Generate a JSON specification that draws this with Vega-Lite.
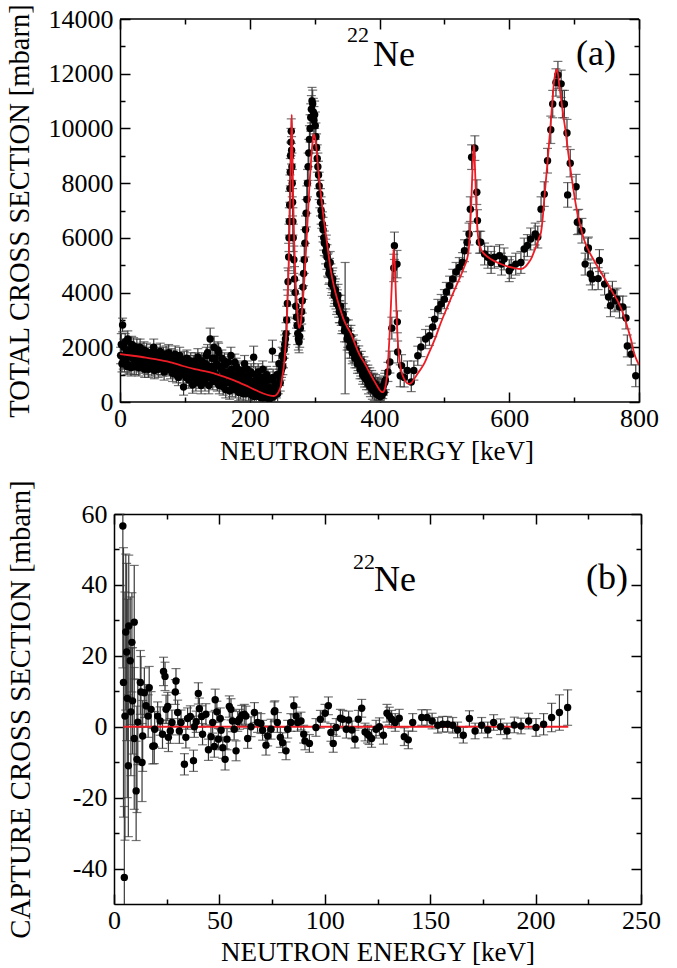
{
"$schema": "https://vega.github.io/schema/vega-lite/v6.json",
"padding": {"left": 5, "top": 3, "right": 5, "bottom": 0},
"background": "white",
"config": {
  "view": {"stroke": null},
  "font": "Liberation Serif",
  "axis": {"domainColor": "black", "domainWidth": 1.5, "tickColor": "black", "tickWidth": 1.5, "labelColor": "black", "titleColor": "black", "labelFont": "Liberation Serif", "titleFont": "Liberation Serif", "labelFontSize": 26, "titleFontSize": 27, "titleFontWeight": "normal", "grid": false, "labelFlush": false, "labelOverlap": false}
},
"datasets": {
  "top": [
    {"e":2,"s":2100,"d":400},{"e":4,"s":2815,"d":250},{"e":5,"s":1500,"d":300},{"e":7,"s":1400,"d":300},{"e":8,"s":2200,"d":300},{"e":10,"s":1800,"d":350},{"e":12,"s":2300,"d":300},{"e":14,"s":1350,"d":300},{"e":16,"s":1900,"d":300},{"e":18,"s":2100,"d":300},{"e":20,"s":1600,"d":300},{"e":22,"s":1300,"d":300},{"e":24,"s":1750,"d":300},{"e":26,"s":2000,"d":300},{"e":28,"s":1450,"d":300},{"e":30,"s":1850,"d":300},{"e":32,"s":1550,"d":300},{"e":35,"s":1350,"d":300},{"e":37,"s":1900,"d":300},{"e":40,"s":1700,"d":300},{"e":42,"s":1300,"d":300},{"e":45,"s":1600,"d":300},{"e":48,"s":1450,"d":300},{"e":52,"s":2000,"d":300},{"e":54,"s":1500,"d":300},{"e":57,"s":1300,"d":300},{"e":60,"s":1700,"d":300},{"e":63,"s":1550,"d":300},{"e":66,"s":1250,"d":300},{"e":69,"s":1600,"d":300},{"e":72,"s":1450,"d":300},{"e":75,"s":1800,"d":300},{"e":78,"s":1150,"d":300},{"e":80,"s":1400,"d":300},{"e":83,"s":1600,"d":300},{"e":86,"s":1200,"d":300},{"e":88,"s":1350,"d":300},{"e":90,"s":900,"d":300},{"e":93,"s":1500,"d":300},{"e":96,"s":1250,"d":300},{"e":98,"s":550,"d":300},{"e":101,"s":1300,"d":300},{"e":104,"s":1100,"d":300},{"e":107,"s":1400,"d":300},{"e":110,"s":1000,"d":300},{"e":112,"s":620,"d":300},{"e":115,"s":1250,"d":300},{"e":118,"s":950,"d":300},{"e":121,"s":1150,"d":300},{"e":124,"s":800,"d":300},{"e":127,"s":1350,"d":300},{"e":130,"s":1050,"d":300},{"e":133,"s":1700,"d":300},{"e":136,"s":900,"d":300},{"e":139,"s":2300,"d":400},{"e":141,"s":1300,"d":300},{"e":143,"s":750,"d":300},{"e":145,"s":2000,"d":400},{"e":146,"s":1600,"d":300},{"e":148,"s":1000,"d":300},{"e":151,"s":1900,"d":300},{"e":152,"s":1800,"d":350},{"e":153,"s":600,"d":300},{"e":156,"s":1200,"d":300},{"e":158,"s":800,"d":300},{"e":161,"s":1500,"d":300},{"e":163,"s":450,"d":300},{"e":166,"s":1100,"d":300},{"e":168,"s":700,"d":300},{"e":171,"s":1700,"d":300},{"e":173,"s":500,"d":300},{"e":176,"s":950,"d":300},{"e":179,"s":1300,"d":300},{"e":181,"s":600,"d":300},{"e":184,"s":1100,"d":300},{"e":186,"s":400,"d":300},{"e":189,"s":800,"d":300},{"e":192,"s":1400,"d":300},{"e":194,"s":300,"d":300},{"e":197,"s":700,"d":300},{"e":200,"s":1000,"d":300},{"e":203,"s":250,"d":300},{"e":206,"s":1640,"d":400},{"e":208,"s":500,"d":300},{"e":211,"s":800,"d":300},{"e":214,"s":200,"d":300},{"e":217,"s":600,"d":300},{"e":220,"s":1200,"d":300},{"e":222,"s":150,"d":300},{"e":225,"s":450,"d":300},{"e":228,"s":900,"d":300},{"e":230,"s":100,"d":300},{"e":233,"s":350,"d":300},{"e":235,"s":1860,"d":400},{"e":237,"s":200,"d":300},{"e":240,"s":600,"d":300},{"e":243,"s":300,"d":300},{"e":246,"s":900,"d":300},{"e":249,"s":1200,"d":300},{"e":252,"s":1600,"d":350},{"e":254,"s":2100,"d":350},{"e":256,"s":2500,"d":400},
    {"e":1,"s":1700,"d":300},{"e":3,"s":1400,"d":300},{"e":6,"s":2000,"d":300},{"e":9,"s":1550,"d":300},{"e":11,"s":1300,"d":300},{"e":13,"s":1900,"d":300},{"e":15,"s":1650,"d":300},{"e":17,"s":1250,"d":300},{"e":19,"s":1800,"d":300},{"e":21,"s":2050,"d":300},{"e":23,"s":1500,"d":300},{"e":25,"s":1300,"d":300},{"e":27,"s":1700,"d":300},{"e":29,"s":1250,"d":300},{"e":31,"s":2000,"d":300},{"e":33,"s":1400,"d":300},{"e":34,"s":1750,"d":300},{"e":36,"s":1550,"d":300},{"e":38,"s":1200,"d":300},{"e":39,"s":1500,"d":300},{"e":41,"s":1850,"d":300},{"e":43,"s":1600,"d":300},{"e":44,"s":1200,"d":300},{"e":46,"s":1400,"d":300},{"e":47,"s":1800,"d":300},{"e":49,"s":1250,"d":300},{"e":50,"s":1550,"d":300},{"e":51,"s":1700,"d":300},{"e":53,"s":1150,"d":300},{"e":55,"s":1800,"d":300},{"e":56,"s":1400,"d":300},{"e":58,"s":1650,"d":300},{"e":59,"s":1200,"d":300},{"e":61,"s":1450,"d":300},{"e":62,"s":1850,"d":300},{"e":64,"s":1300,"d":300},{"e":65,"s":1500,"d":300},{"e":67,"s":1700,"d":300},{"e":68,"s":1100,"d":300},{"e":70,"s":1400,"d":300},{"e":71,"s":1750,"d":300},{"e":73,"s":1300,"d":300},{"e":74,"s":1550,"d":300},{"e":76,"s":1250,"d":300},{"e":77,"s":1500,"d":300},{"e":79,"s":1650,"d":300},{"e":81,"s":1050,"d":300},{"e":82,"s":1300,"d":300},{"e":84,"s":1450,"d":300},{"e":85,"s":1750,"d":300},{"e":87,"s":1000,"d":300},{"e":89,"s":1500,"d":300},{"e":91,"s":1250,"d":300},{"e":92,"s":1700,"d":300},{"e":94,"s":1100,"d":300},{"e":95,"s":1400,"d":300},{"e":97,"s":1000,"d":300},{"e":99,"s":1550,"d":300},{"e":100,"s":1200,"d":300},{"e":102,"s":900,"d":300},{"e":103,"s":1600,"d":300},{"e":105,"s":1300,"d":300},{"e":106,"s":800,"d":300},{"e":108,"s":1200,"d":300},{"e":109,"s":1500,"d":300},{"e":111,"s":1100,"d":300},{"e":113,"s":1400,"d":300},{"e":114,"s":900,"d":300},{"e":116,"s":1500,"d":300},{"e":117,"s":700,"d":300},{"e":119,"s":1200,"d":300},{"e":120,"s":1650,"d":300},{"e":122,"s":1000,"d":300},{"e":123,"s":1300,"d":300},{"e":125,"s":600,"d":300},{"e":126,"s":1500,"d":300},{"e":128,"s":900,"d":300},{"e":129,"s":1200,"d":300},{"e":131,"s":700,"d":300},{"e":132,"s":1400,"d":300},{"e":134,"s":1100,"d":300},{"e":135,"s":1800,"d":300},{"e":137,"s":600,"d":300},{"e":138,"s":1300,"d":300},{"e":140,"s":1000,"d":300},{"e":142,"s":1600,"d":300},{"e":144,"s":1200,"d":300},{"e":147,"s":850,"d":300},{"e":149,"s":1400,"d":300},{"e":150,"s":700,"d":300},{"e":154,"s":1300,"d":300},{"e":155,"s":900,"d":300},{"e":157,"s":1600,"d":300},{"e":159,"s":550,"d":300},{"e":160,"s":1100,"d":300},{"e":162,"s":1350,"d":300},{"e":164,"s":700,"d":300},{"e":165,"s":1000,"d":300},{"e":167,"s":1450,"d":300},{"e":169,"s":400,"d":300},{"e":170,"s":900,"d":300},{"e":172,"s":1200,"d":300},{"e":174,"s":650,"d":300},{"e":175,"s":1000,"d":300},{"e":177,"s":1450,"d":300},{"e":178,"s":450,"d":300},{"e":180,"s":850,"d":300},{"e":182,"s":1200,"d":300},{"e":183,"s":350,"d":300},{"e":185,"s":900,"d":300},{"e":187,"s":600,"d":300},{"e":188,"s":1150,"d":300},{"e":190,"s":300,"d":300},{"e":191,"s":700,"d":300},{"e":193,"s":950,"d":300},{"e":195,"s":500,"d":300},{"e":196,"s":1200,"d":300},{"e":198,"s":350,"d":300},{"e":199,"s":800,"d":300},{"e":201,"s":600,"d":300},{"e":202,"s":1100,"d":300},{"e":204,"s":400,"d":300},{"e":205,"s":750,"d":300},{"e":207,"s":200,"d":300},{"e":209,"s":1000,"d":300},{"e":210,"s":300,"d":300},{"e":212,"s":650,"d":300},{"e":213,"s":1100,"d":300},{"e":215,"s":400,"d":300},{"e":216,"s":750,"d":300},{"e":218,"s":150,"d":300},{"e":219,"s":900,"d":300},{"e":221,"s":500,"d":300},{"e":223,"s":700,"d":300},{"e":224,"s":250,"d":300},{"e":226,"s":1000,"d":300},{"e":227,"s":300,"d":300},{"e":229,"s":550,"d":300},{"e":231,"s":800,"d":300},{"e":232,"s":150,"d":300},{"e":234,"s":500,"d":300},{"e":236,"s":900,"d":300},{"e":238,"s":300,"d":300},{"e":239,"s":700,"d":300},{"e":241,"s":450,"d":300},{"e":242,"s":1000,"d":300},{"e":244,"s":600,"d":300},{"e":245,"s":1400,"d":300},{"e":247,"s":700,"d":300},{"e":248,"s":1100,"d":300},{"e":250,"s":1700,"d":300},{"e":251,"s":1300,"d":300},{"e":253,"s":1900,"d":300},{"e":255,"s":2300,"d":300},
    {"e":257,"s":3000,"d":500},{"e":258,"s":3600,"d":500},{"e":259,"s":4400,"d":500},{"e":260,"s":5300,"d":500},{"e":260.5,"s":6000,"d":500},{"e":261,"s":6600,"d":500},{"e":261.5,"s":7200,"d":500},{"e":262,"s":7800,"d":500},{"e":262.5,"s":8400,"d":500},{"e":263,"s":9000,"d":500},{"e":263.5,"s":9500,"d":500},{"e":264,"s":9900,"d":450},{"e":264.5,"s":9200,"d":500},{"e":265,"s":8600,"d":500},{"e":265.5,"s":8000,"d":500},{"e":266,"s":7300,"d":500},{"e":266.5,"s":6600,"d":500},{"e":267,"s":6000,"d":500},{"e":268,"s":5200,"d":500},{"e":269,"s":4500,"d":450},{"e":270,"s":4000,"d":450},{"e":271,"s":3500,"d":450},{"e":272,"s":3100,"d":400},{"e":273,"s":2800,"d":400},{"e":274,"s":2500,"d":400},{"e":275,"s":2300,"d":400},{"e":276,"s":2200,"d":400},{"e":277,"s":2400,"d":400},{"e":278,"s":2700,"d":400},{"e":279,"s":3000,"d":400},{"e":280,"s":3300,"d":450},{"e":281,"s":3700,"d":450},{"e":282,"s":4200,"d":450},{"e":283,"s":4700,"d":450},{"e":284,"s":5200,"d":500},{"e":285,"s":5800,"d":500},{"e":286,"s":6300,"d":500},{"e":287,"s":6900,"d":500},{"e":288,"s":7400,"d":500},{"e":289,"s":8000,"d":500},{"e":290,"s":8600,"d":500},{"e":291,"s":9100,"d":500},{"e":292,"s":9600,"d":500},{"e":293,"s":10000,"d":500},{"e":294,"s":10400,"d":500},{"e":295,"s":10700,"d":500},{"e":296,"s":11000,"d":500},{"e":297,"s":10900,"d":500},{"e":298,"s":10600,"d":500},{"e":299,"s":10300,"d":500},{"e":300,"s":10500,"d":500},{"e":301,"s":10100,"d":500},{"e":302,"s":9700,"d":500},{"e":303,"s":9300,"d":500},{"e":304,"s":8900,"d":500},{"e":305,"s":8600,"d":500},{"e":306,"s":8300,"d":500},{"e":307,"s":7900,"d":500},{"e":308,"s":7600,"d":500},{"e":309,"s":7300,"d":500},{"e":310,"s":7000,"d":500},{"e":311,"s":6800,"d":450},{"e":312,"s":6500,"d":450},{"e":313,"s":6300,"d":450},{"e":314,"s":6000,"d":450},{"e":315,"s":5800,"d":450},{"e":317,"s":5500,"d":450},{"e":319,"s":5300,"d":450},{"e":321,"s":5000,"d":450},{"e":323,"s":4800,"d":450},{"e":325,"s":4600,"d":450},{"e":327,"s":4400,"d":400},{"e":329,"s":4200,"d":400},{"e":331,"s":4000,"d":400},{"e":333,"s":3800,"d":400},{"e":335,"s":3700,"d":400},{"e":337,"s":3500,"d":400},{"e":339,"s":3300,"d":400},{"e":341,"s":3200,"d":400},{"e":343,"s":3000,"d":400},{"e":345,"s":2900,"d":400},{"e":347,"s":2700,"d":2400},{"e":349,"s":2600,"d":400},{"e":351,"s":2400,"d":400},{"e":353,"s":2300,"d":400},{"e":355,"s":2200,"d":400},{"e":357,"s":2000,"d":400},{"e":359,"s":1900,"d":400},{"e":361,"s":1800,"d":350},{"e":363,"s":1700,"d":350},{"e":365,"s":1600,"d":350},{"e":367,"s":1500,"d":350},{"e":369,"s":1400,"d":350},{"e":371,"s":1300,"d":350},{"e":373,"s":1200,"d":350},{"e":375,"s":1100,"d":350},{"e":378,"s":1000,"d":350},{"e":381,"s":900,"d":350},{"e":384,"s":800,"d":350},{"e":387,"s":700,"d":350},{"e":390,"s":650,"d":350},{"e":393,"s":550,"d":350},{"e":396,"s":500,"d":350},{"e":399,"s":450,"d":350},{"e":402,"s":350,"d":350},
    {"e":318,"s":5700,"d":400},{"e":320,"s":5000,"d":400},{"e":322,"s":4700,"d":400},{"e":324,"s":5100,"d":400},{"e":326,"s":4300,"d":400},{"e":328,"s":4500,"d":400},{"e":330,"s":3900,"d":400},{"e":332,"s":4100,"d":400},{"e":334,"s":3600,"d":400},{"e":336,"s":3900,"d":400},{"e":338,"s":3300,"d":400},{"e":340,"s":3500,"d":400},{"e":342,"s":2900,"d":400},{"e":344,"s":3200,"d":400},{"e":346,"s":2600,"d":400},{"e":348,"s":3000,"d":400},{"e":350,"s":2300,"d":400},{"e":352,"s":2600,"d":400},{"e":354,"s":2000,"d":400},{"e":356,"s":2400,"d":400},{"e":358,"s":1800,"d":400},{"e":360,"s":2100,"d":350},{"e":362,"s":1600,"d":350},{"e":364,"s":1900,"d":350},{"e":366,"s":1400,"d":350},{"e":368,"s":1700,"d":350},{"e":370,"s":1200,"d":350},{"e":372,"s":1500,"d":350},{"e":374,"s":1000,"d":350},{"e":376,"s":1300,"d":350},{"e":377,"s":900,"d":350},{"e":379,"s":1150,"d":350},{"e":380,"s":800,"d":350},{"e":382,"s":1000,"d":350},{"e":383,"s":650,"d":350},{"e":385,"s":900,"d":350},{"e":386,"s":550,"d":350},{"e":388,"s":800,"d":350},{"e":389,"s":450,"d":350},{"e":391,"s":700,"d":350},{"e":392,"s":400,"d":350},{"e":394,"s":650,"d":350},{"e":395,"s":300,"d":350},{"e":397,"s":550,"d":350},{"e":398,"s":250,"d":350},{"e":400,"s":400,"d":350},{"e":401,"s":200,"d":350},{"e":403,"s":500,"d":350},{"e":404,"s":250,"d":350},{"e":406,"s":600,"d":350},{"e":407,"s":350,"d":350},{"e":408,"s":700,"d":350},
    {"e":405,"s":475,"d":350},{"e":409,"s":800,"d":350},{"e":413,"s":1100,"d":350},{"e":416,"s":1460,"d":400},{"e":419,"s":2700,"d":400},{"e":422,"s":4900,"d":500},{"e":423,"s":5710,"d":500},{"e":427,"s":5040,"d":500},{"e":427.5,"s":2930,"d":400},{"e":428,"s":1830,"d":400},{"e":432,"s":960,"d":400},{"e":434,"s":1330,"d":400},{"e":438,"s":900,"d":350},{"e":443,"s":1150,"d":350},{"e":449,"s":730,"d":350},{"e":453,"s":1150,"d":350},{"e":459,"s":1690,"d":350},{"e":464,"s":2010,"d":350},{"e":471,"s":2300,"d":350},{"e":477,"s":2420,"d":350},{"e":482,"s":2740,"d":350},{"e":485,"s":3030,"d":350},{"e":490,"s":3400,"d":350},{"e":495,"s":3580,"d":350},{"e":500,"s":3760,"d":350},{"e":503,"s":4020,"d":350},{"e":508,"s":4250,"d":350},{"e":513,"s":4500,"d":350},{"e":518,"s":4750,"d":350},{"e":523,"s":4930,"d":350},{"e":528,"s":5110,"d":350},{"e":531,"s":5530,"d":400},{"e":535,"s":5840,"d":400},{"e":538,"s":6140,"d":400},{"e":540,"s":7050,"d":450},{"e":542,"s":8950,"d":450},{"e":547,"s":9280,"d":450},{"e":550,"s":7670,"d":450},{"e":551,"s":6630,"d":400},{"e":554,"s":5840,"d":400},{"e":556,"s":5840,"d":400},{"e":562,"s":5410,"d":400},{"e":567,"s":5290,"d":400},{"e":572,"s":5100,"d":400},{"e":577,"s":5290,"d":400},{"e":585,"s":5350,"d":400},{"e":588,"s":5040,"d":400},{"e":592,"s":5230,"d":400},{"e":600,"s":4800,"d":400},{"e":603,"s":4920,"d":400},{"e":610,"s":5040,"d":400},{"e":618,"s":5100,"d":400},{"e":623,"s":5590,"d":400},{"e":628,"s":5720,"d":400},{"e":633,"s":5960,"d":400},{"e":640,"s":6140,"d":400},{"e":644,"s":6030,"d":400},{"e":649,"s":7050,"d":450},{"e":654,"s":7600,"d":450},{"e":659,"s":8820,"d":450},{"e":664,"s":9950,"d":500},{"e":667,"s":10890,"d":500},{"e":672,"s":11680,"d":500},{"e":675,"s":11950,"d":500},{"e":680,"s":11630,"d":500},{"e":682,"s":10890,"d":500},{"e":685,"s":10890,"d":500},{"e":689,"s":9830,"d":500},{"e":694,"s":8730,"d":500},{"e":690,"s":7570,"d":450},{"e":703,"s":7870,"d":450},{"e":705,"s":6570,"d":450},{"e":707,"s":6590,"d":450},{"e":712,"s":6260,"d":450},{"e":717,"s":5040,"d":400},{"e":721,"s":5590,"d":400},{"e":722,"s":5630,"d":400},{"e":725,"s":4680,"d":400},{"e":728,"s":4500,"d":400},{"e":737,"s":4510,"d":400},{"e":739,"s":5170,"d":400},{"e":747,"s":4310,"d":400},{"e":753,"s":3840,"d":400},{"e":756,"s":3520,"d":400},{"e":759,"s":4010,"d":400},{"e":763,"s":3700,"d":400},{"e":766,"s":3760,"d":400},{"e":770,"s":3470,"d":400},{"e":775,"s":3470,"d":400},{"e":780,"s":3070,"d":400},{"e":782,"s":2050,"d":400},{"e":788,"s":1750,"d":400},{"e":795,"s":960,"d":400}
  ],
  "topfit": [
    {"e":0,"s":1755},{"e":20,"s":1690},{"e":40,"s":1620},{"e":60,"s":1540},{"e":80,"s":1440},{"e":97,"s":1316},{"e":120,"s":1180},{"e":148,"s":1023},{"e":175,"s":800},{"e":199,"s":548},{"e":220,"s":320},{"e":232,"s":230},{"e":237,"s":220},{"e":241,"s":260},{"e":245,"s":400},{"e":248,"s":600},{"e":250,"s":900},{"e":253,"s":1400},{"e":255,"s":2000},{"e":257,"s":2800},{"e":258,"s":3500},{"e":259.5,"s":4600},{"e":261,"s":6000},{"e":262,"s":7200},{"e":263,"s":8500},{"e":264,"s":9700},{"e":264.7,"s":10500},{"e":265.5,"s":9600},{"e":266.5,"s":8000},{"e":268,"s":6300},{"e":269,"s":5500},{"e":270.5,"s":4500},{"e":272,"s":3800},{"e":274,"s":3100},{"e":276,"s":2700},{"e":278,"s":2800},{"e":280,"s":3200},{"e":282.5,"s":3900},{"e":285,"s":4800},{"e":287.5,"s":5900},{"e":290,"s":7000},{"e":292.5,"s":8100},{"e":295,"s":9000},{"e":297,"s":9550},{"e":299,"s":9800},{"e":301,"s":9600},{"e":303,"s":9200},{"e":306,"s":8400},{"e":310,"s":7500},{"e":314,"s":6700},{"e":318,"s":6000},{"e":322,"s":5300},{"e":325,"s":4800},{"e":330,"s":4200},{"e":335,"s":3750},{"e":340,"s":3350},{"e":345,"s":3000},{"e":350,"s":2750},{"e":356,"s":2500},{"e":361,"s":2200},{"e":366,"s":1900},{"e":371,"s":1650},{"e":376,"s":1460},{"e":383,"s":1150},{"e":390,"s":850},{"e":396,"s":600},{"e":400,"s":450},{"e":403,"s":370},{"e":405,"s":360},{"e":407,"s":400},{"e":409,"s":550},{"e":411,"s":850},{"e":413,"s":1400},{"e":415,"s":2200},{"e":417,"s":3200},{"e":419,"s":4300},{"e":420.5,"s":5100},{"e":422,"s":5590},{"e":423.5,"s":5100},{"e":425,"s":4100},{"e":426.5,"s":3100},{"e":428,"s":2300},{"e":430,"s":1700},{"e":433,"s":1200},{"e":436,"s":950},{"e":440,"s":760},{"e":445,"s":660},{"e":450,"s":720},{"e":455,"s":900},{"e":460,"s":1080},{"e":465,"s":1250},{"e":470,"s":1460},{"e":474,"s":1680},{"e":480,"s":2000},{"e":487,"s":2400},{"e":493,"s":2800},{"e":500,"s":3216},{"e":506,"s":3550},{"e":512,"s":3900},{"e":518,"s":4230},{"e":525,"s":4600},{"e":530,"s":4900},{"e":534,"s":5150},{"e":536,"s":5340},{"e":538,"s":5700},{"e":540,"s":6500},{"e":541.5,"s":7300},{"e":543,"s":8300},{"e":544.5,"s":9100},{"e":545.5,"s":9400},{"e":546.5,"s":9000},{"e":548,"s":8000},{"e":549.5,"s":7000},{"e":551,"s":6300},{"e":553,"s":5850},{"e":556,"s":5600},{"e":560,"s":5450},{"e":567,"s":5300},{"e":577,"s":5150},{"e":587,"s":5044},{"e":597,"s":4960},{"e":607,"s":4900},{"e":618,"s":4862},{"e":625,"s":4950},{"e":630,"s":5100},{"e":635,"s":5300},{"e":638,"s":5480},{"e":643,"s":5800},{"e":646,"s":6000},{"e":649,"s":6210},{"e":651.5,"s":6700},{"e":654,"s":7420},{"e":656.5,"s":8100},{"e":659,"s":8770},{"e":661.5,"s":9500},{"e":664,"s":10230},{"e":666.5,"s":11000},{"e":669,"s":11700},{"e":671,"s":12000},{"e":673,"s":12170},{"e":675,"s":12000},{"e":677,"s":11600},{"e":680,"s":11075},{"e":683.5,"s":10450},{"e":687,"s":9870},{"e":691,"s":9100},{"e":695,"s":8400},{"e":699,"s":7750},{"e":703,"s":7160},{"e":709,"s":6500},{"e":715,"s":5960},{"e":722,"s":5550},{"e":730,"s":5200},{"e":741,"s":4750},{"e":750,"s":4400},{"e":760,"s":3980},{"e":768,"s":3650},{"e":776,"s":3200},{"e":783,"s":2670},{"e":788,"s":2250},{"e":792,"s":1830},{"e":797,"s":1500},{"e":800,"s":1350}
  ],
  "bot": [
    {"e":4.2,"s":56.6,"d":40},{"e":4.9,"s":-42.5,"d":20},{"e":4.5,"s":12.5,"d":38},{"e":5.2,"s":3.0,"d":35},{"e":5.6,"s":26.7,"d":22},{"e":6.0,"s":21.1,"d":25},{"e":6.3,"s":8.0,"d":28},{"e":7.0,"s":28.4,"d":20},{"e":6.8,"s":-11.0,"d":20},{"e":7.7,"s":18.6,"d":18},{"e":8.0,"s":4.2,"d":18},{"e":8.5,"s":23.8,"d":14},{"e":9.6,"s":29.5,"d":16},{"e":8.8,"s":7.3,"d":15},{"e":9.6,"s":-3.3,"d":20},{"e":10.5,"s":-18.1,"d":14},{"e":10.9,"s":-9.2,"d":15},{"e":11.3,"s":1.3,"d":12},{"e":12.5,"s":12.5,"d":9},{"e":12.8,"s":9.8,"d":10},{"e":13.3,"s":-10.1,"d":11},{"e":13.6,"s":-2.6,"d":10},{"e":14.4,"s":9.6,"d":7},{"e":15.2,"s":5.9,"d":6},{"e":16.2,"s":3.0,"d":6},{"e":16.7,"s":11.0,"d":6},{"e":17.6,"s":4.9,"d":5},{"e":18.4,"s":-5.5,"d":5},{"e":19.1,"s":-5.4,"d":5},{"e":19.3,"s":-0.7,"d":5},{"e":20.7,"s":3.0,"d":4},{"e":21.9,"s":1.6,"d":4},{"e":23.0,"s":-2.1,"d":4},{"e":23.5,"s":15.6,"d":4},{"e":24.2,"s":14.2,"d":4},{"e":24.7,"s":4.9,"d":4},{"e":25.5,"s":5.7,"d":4},{"e":25.8,"s":-3.0,"d":4},{"e":26.7,"s":-1.2,"d":3.5},{"e":27.5,"s":1.2,"d":3.5},{"e":29.1,"s":9.8,"d":3.5},{"e":29.4,"s":12.9,"d":3.5},{"e":30.2,"s":4.0,"d":3.5},{"e":31.0,"s":-1.2,"d":3.5},{"e":31.8,"s":1.2,"d":3.5},{"e":33.4,"s":-10.6,"d":3},{"e":34.1,"s":-3.0,"d":3},{"e":34.9,"s":2.3,"d":3},{"e":36.2,"s":2.9,"d":3},{"e":37.7,"s":-9.6,"d":3},{"e":38.1,"s":0.0,"d":3},{"e":39.0,"s":1.4,"d":3},{"e":40.0,"s":9.4,"d":3},{"e":40.5,"s":5.1,"d":3},{"e":41.6,"s":2.9,"d":3},{"e":42.0,"s":-2.1,"d":3},{"e":43.6,"s":3.5,"d":3},{"e":44.8,"s":-6.5,"d":3},{"e":46.0,"s":-2.8,"d":3},{"e":46.8,"s":1.2,"d":3},{"e":47.6,"s":-5.6,"d":3},{"e":48.0,"s":7.6,"d":3},{"e":48.8,"s":4.2,"d":3},{"e":49.5,"s":-3.5,"d":3},{"e":50.4,"s":2.3,"d":3},{"e":50.8,"s":-1.0,"d":3},{"e":51.6,"s":-5.9,"d":3},{"e":52.7,"s":-9.2,"d":3},{"e":53.6,"s":-3.5,"d":3},{"e":54.7,"s":5.7,"d":3},{"e":55.5,"s":4.9,"d":3},{"e":56.2,"s":1.6,"d":3},{"e":57.0,"s":-0.7,"d":3},{"e":57.9,"s":-6.8,"d":2.8},{"e":58.7,"s":1.5,"d":2.8},{"e":59.5,"s":2.1,"d":2.8},{"e":60.6,"s":3.2,"d":2.8},{"e":61.8,"s":3.5,"d":2.8},{"e":62.6,"s":3.0,"d":2.8},{"e":63.4,"s":-3.3,"d":2.8},{"e":65.0,"s":0.0,"d":2.8},{"e":66.6,"s":4.0,"d":2.8},{"e":68.1,"s":1.2,"d":2.8},{"e":69.7,"s":0.9,"d":2.8},{"e":70.5,"s":-1.0,"d":2.8},{"e":72.1,"s":-5.2,"d":2.8},{"e":72.9,"s":-2.6,"d":2.8},{"e":74.5,"s":-0.7,"d":2.8},{"e":76.0,"s":4.2,"d":2.8},{"e":76.3,"s":4.5,"d":2.8},{"e":77.5,"s":1.2,"d":2.8},{"e":78.9,"s":-3.0,"d":2.8},{"e":80.0,"s":-4.5,"d":2.8},{"e":81.6,"s":-6.8,"d":2.5},{"e":82.4,"s":-0.7,"d":2.5},{"e":83.9,"s":1.2,"d":2.5},{"e":85.3,"s":5.9,"d":2.5},{"e":86.4,"s":3.0,"d":2.5},{"e":87.1,"s":1.2,"d":2.5},
    {"e":88.7,"s":1.6,"d":2.5},{"e":90.0,"s":-2.1,"d":2.5},{"e":90.6,"s":-4.0,"d":2.5},{"e":92.7,"s":-4.7,"d":2.5},{"e":95.8,"s":-0.2,"d":2.5},{"e":97.9,"s":2.1,"d":2.5},{"e":100.1,"s":3.8,"d":2.5},{"e":101.7,"s":5.9,"d":2.5},{"e":102.9,"s":-1.6,"d":2.5},{"e":104.0,"s":-4.7,"d":2.5},{"e":105.4,"s":-0.2,"d":2.5},{"e":107.4,"s":2.4,"d":2.5},{"e":108.5,"s":2.1,"d":2.5},{"e":110.2,"s":-0.7,"d":2.5},{"e":111.3,"s":1.9,"d":2.5},{"e":112.9,"s":-0.9,"d":2.5},{"e":114.3,"s":-3.5,"d":2.5},{"e":115.9,"s":2.1,"d":2.5},{"e":117.5,"s":5.2,"d":2.5},{"e":119.1,"s":-1.5,"d":2.5},{"e":120.3,"s":-2.1,"d":2.5},{"e":121.0,"s":-2.5,"d":2.5},{"e":122.2,"s":-3.3,"d":2.5},{"e":124.3,"s":-0.7,"d":2.5},{"e":125.9,"s":0.0,"d":2.5},{"e":127.8,"s":-2.4,"d":2.5},{"e":129.5,"s":3.8,"d":2.5},{"e":130.6,"s":3.0,"d":2.5},{"e":131.7,"s":2.1,"d":2.5},{"e":133.4,"s":1.2,"d":2.5},{"e":135.3,"s":2.4,"d":2.5},{"e":137.7,"s":-2.8,"d":2.5},{"e":139.6,"s":-3.7,"d":2.5},{"e":141.7,"s":1.2,"d":2.5},{"e":146.0,"s":2.6,"d":2.2},{"e":148.5,"s":2.6,"d":2.2},{"e":150.9,"s":1.6,"d":2.2},{"e":153.6,"s":0.4,"d":2.2},{"e":155.9,"s":0.7,"d":2.2},{"e":158.3,"s":0.7,"d":2.2},{"e":160.7,"s":0.4,"d":2.2},{"e":163.0,"s":-0.9,"d":2.2},{"e":165.7,"s":-2.4,"d":2.2},{"e":168.6,"s":2.3,"d":2.2},{"e":171.3,"s":-1.2,"d":2.2},{"e":174.4,"s":0.4,"d":2.2},{"e":177.3,"s":-0.9,"d":2.2},{"e":180.1,"s":1.2,"d":2.2},{"e":183.4,"s":0.0,"d":2.2},{"e":186.4,"s":-1.2,"d":2.2},{"e":189.9,"s":0.5,"d":2.2},{"e":193.1,"s":0.2,"d":2.2},{"e":196.7,"s":1.6,"d":2.2},{"e":200.2,"s":-0.2,"d":2.5},{"e":203.8,"s":0.7,"d":3},{"e":207.6,"s":2.6,"d":4},{"e":211.3,"s":4.0,"d":5},{"e":215.2,"s":5.4,"d":5}
  ],
  "botfit": [{"e":4.5,"s":0},{"e":215.5,"s":0}]
},
"vconcat": [
  {
    "width": 525, "height": 383,
    "resolve": {"axis": {"x": "independent", "y": "independent"}},
    "layer": [
      {
        "data": {"values": [{}]},
        "mark": {"type": "rule", "color": "black", "strokeWidth": 1.5},
        "encoding": {
          "x": {"datum": 0, "type": "quantitative", "scale": {"domain": [-9.25, 800], "nice": false, "zero": false}, "axis": null},
          "x2": {"datum": 800},
          "y": {"datum": 0, "type": "quantitative", "scale": {"domain": [0, 14000], "nice": false}, "axis": null}
        }
      },
      {
        "data": {"values": [{}]},
        "mark": {"type": "rule", "color": "black", "strokeWidth": 1.5},
        "encoding": {
          "x": {"datum": 0, "type": "quantitative", "scale": {"domain": [-9.25, 800], "nice": false, "zero": false}, "axis": null},
          "x2": {"datum": 800},
          "y": {"datum": 14000, "type": "quantitative", "scale": {"domain": [0, 14000], "nice": false}, "axis": null}
        }
      },
      {
        "data": {"name": "top"},
        "mark": {"type": "errorbar", "ticks": {"size": 9, "thickness": 1.2}, "color": "#3a3a3a", "thickness": 1.2, "clip": true},
        "encoding": {
          "x": {"field": "e", "type": "quantitative", "scale": {"domain": [-9.25, 800], "nice": false, "zero": false}, "axis": null},
          "y": {"field": "s", "type": "quantitative", "scale": {"domain": [0, 14000], "nice": false}, "axis": null},
          "yError": {"field": "d"}
        }
      },
      {
        "data": {"name": "top"},
        "mark": {"type": "point", "filled": true, "color": "black", "size": 55, "opacity": 1, "strokeWidth": 0, "clip": true},
        "encoding": {
          "x": {"field": "e", "type": "quantitative", "scale": {"domain": [-9.25, 800], "nice": false, "zero": false},
                "axis": {"orient": "bottom", "values": [0, 200, 400, 600, 800], "domain": false, "tickSize": -10, "labelPadding": 13, "labelFont": "Liberation Serif", "labelFontSize": 26, "titleFont": "Liberation Serif", "titleFontSize": 27, "title": "NEUTRON ENERGY [keV]", "titlePadding": 7, "labelExpr": "'' + datum.value"}},
          "y": {"field": "s", "type": "quantitative", "scale": {"domain": [0, 14000], "nice": false},
                "axis": {"orient": "left", "offset": -6, "values": [0, 2000, 4000, 6000, 8000, 10000, 12000, 14000], "tickSize": -10, "labelPadding": 17, "labelFont": "Liberation Serif", "labelFontSize": 26, "titleFont": "Liberation Serif", "titleFontSize": 28.5, "title": "TOTAL CROSS SECTION [mbarn]", "titlePadding": 14, "labelExpr": "'' + datum.value"}}
        }
      },
      {
        "data": {"name": "topfit"},
        "mark": {"type": "line", "color": "#ee1c25", "strokeWidth": 1.8, "interpolate": "monotone", "clip": true},
        "encoding": {
          "x": {"field": "e", "type": "quantitative", "scale": {"domain": [-9.25, 800], "nice": false, "zero": false},
                "axis": {"orient": "top", "values": [0, 200, 400, 600, 800], "domain": false, "tickSize": -10, "labels": false, "title": null}},
          "y": {"field": "s", "type": "quantitative", "scale": {"domain": [0, 14000], "nice": false},
                "axis": {"orient": "right", "values": [0, 2000, 4000, 6000, 8000, 10000, 12000, 14000], "tickSize": -10, "labels": false, "title": null}}
        }
      },
      {
        "data": {"values": [{"tx": 390, "ty": 12282, "t": "Ne"}, {"tx": 703, "ty": 12318, "t": "(a)"}]},
        "mark": {"type": "text", "align": "left", "baseline": "alphabetic", "fontSize": 36, "font": "Liberation Serif", "color": "black"},
        "encoding": {
          "x": {"field": "tx", "type": "quantitative", "scale": {"domain": [-9.25, 800], "nice": false, "zero": false},
                "axis": {"orient": "bottom", "values": [100, 300, 500, 700], "tickSize": -5, "labels": false, "domain": false, "title": null}},
          "y": {"field": "ty", "type": "quantitative", "scale": {"domain": [0, 14000], "nice": false},
                "axis": {"orient": "left", "offset": -6, "values": [1000, 3000, 5000, 7000, 9000, 11000, 13000], "tickSize": -5, "labels": false, "domain": false, "title": null}},
          "text": {"field": "t"}
        }
      },
      {
        "data": {"values": [{"tx": 350, "ty": 13159, "t": "22"}]},
        "mark": {"type": "text", "align": "left", "baseline": "alphabetic", "fontSize": 22, "font": "Liberation Serif", "color": "black"},
        "encoding": {
          "x": {"field": "tx", "type": "quantitative", "scale": {"domain": [-9.25, 800], "nice": false, "zero": false},
                "axis": {"orient": "top", "values": [100, 300, 500, 700], "tickSize": -5, "labels": false, "domain": false, "title": null}},
          "y": {"field": "ty", "type": "quantitative", "scale": {"domain": [0, 14000], "nice": false},
                "axis": {"orient": "right", "values": [1000, 3000, 5000, 7000, 9000, 11000, 13000], "tickSize": -5, "labels": false, "domain": false, "title": null}},
          "text": {"field": "t"}
        }
      }
    ]
  },
  {
    "width": 527, "height": 390,
    "resolve": {"axis": {"x": "independent", "y": "independent"}},
    "layer": [
      {
        "data": {"name": "bot"},
        "mark": {"type": "errorbar", "ticks": {"size": 9, "thickness": 1.2}, "color": "#3a3a3a", "thickness": 1.2, "clip": true},
        "encoding": {
          "x": {"field": "e", "type": "quantitative", "scale": {"domain": [0, 250], "nice": false, "zero": false}, "axis": null},
          "y": {"field": "s", "type": "quantitative", "scale": {"domain": [-50, 60], "nice": false, "zero": false}, "axis": null},
          "yError": {"field": "d"}
        }
      },
      {
        "data": {"name": "botfit"},
        "mark": {"type": "line", "color": "#ee1c25", "strokeWidth": 1.8, "clip": true},
        "encoding": {
          "x": {"field": "e", "type": "quantitative", "scale": {"domain": [0, 250], "nice": false, "zero": false},
                "axis": {"orient": "top", "values": [0, 50, 100, 150, 200, 250], "tickSize": -10, "labels": false, "title": null}},
          "y": {"field": "s", "type": "quantitative", "scale": {"domain": [-50, 60], "nice": false, "zero": false},
                "axis": {"orient": "right", "values": [-40, -20, 0, 20, 40, 60], "tickSize": -10, "labels": false, "title": null}}
        }
      },
      {
        "data": {"name": "bot"},
        "mark": {"type": "point", "filled": true, "color": "black", "size": 55, "opacity": 1, "strokeWidth": 0, "clip": true},
        "encoding": {
          "x": {"field": "e", "type": "quantitative", "scale": {"domain": [0, 250], "nice": false, "zero": false},
                "axis": {"orient": "bottom", "values": [0, 50, 100, 150, 200, 250], "tickSize": -10, "labelPadding": 13, "labelFont": "Liberation Serif", "labelFontSize": 26, "titleFont": "Liberation Serif", "titleFontSize": 27, "title": "NEUTRON ENERGY [keV]", "titlePadding": 6, "labelExpr": "'' + datum.value"}},
          "y": {"field": "s", "type": "quantitative", "scale": {"domain": [-50, 60], "nice": false, "zero": false},
                "axis": {"orient": "left", "values": [-40, -20, 0, 20, 40, 60], "tickSize": -10, "labelPadding": 17, "labelFont": "Liberation Serif", "labelFontSize": 26, "titleFont": "Liberation Serif", "titleFontSize": 28.8, "title": "CAPTURE CROSS SECTION [mbarn]", "titlePadding": 37, "labelExpr": "'' + datum.value"}}
        }
      },
      {
        "data": {"values": [{"tx": 123.3, "ty": 38.2, "t": "Ne"}, {"tx": 223.9, "ty": 38.8, "t": "(b)"}]},
        "mark": {"type": "text", "align": "left", "baseline": "alphabetic", "fontSize": 36, "font": "Liberation Serif", "color": "black"},
        "encoding": {
          "x": {"field": "tx", "type": "quantitative", "scale": {"domain": [0, 250], "nice": false, "zero": false},
                "axis": {"orient": "bottom", "values": [25, 75, 125, 175, 225], "tickSize": -5, "labels": false, "domain": false, "title": null}},
          "y": {"field": "ty", "type": "quantitative", "scale": {"domain": [-50, 60], "nice": false, "zero": false},
                "axis": {"orient": "left", "values": [-30, -10, 10, 30, 50], "tickSize": -5, "labels": false, "domain": false, "title": null}},
          "text": {"field": "t"}
        }
      },
      {
        "data": {"values": [{"tx": 113.4, "ty": 44.4, "t": "22"}]},
        "mark": {"type": "text", "align": "left", "baseline": "alphabetic", "fontSize": 22, "font": "Liberation Serif", "color": "black"},
        "encoding": {
          "x": {"field": "tx", "type": "quantitative", "scale": {"domain": [0, 250], "nice": false, "zero": false},
                "axis": {"orient": "top", "values": [25, 75, 125, 175, 225], "tickSize": -5, "labels": false, "domain": false, "title": null}},
          "y": {"field": "ty", "type": "quantitative", "scale": {"domain": [-50, 60], "nice": false, "zero": false},
                "axis": {"orient": "right", "values": [-30, -10, 10, 30, 50], "tickSize": -5, "labels": false, "domain": false, "title": null}},
          "text": {"field": "t"}
        }
      }
    ]
  }
],
"bounds": "full",
"spacing": 15
}
